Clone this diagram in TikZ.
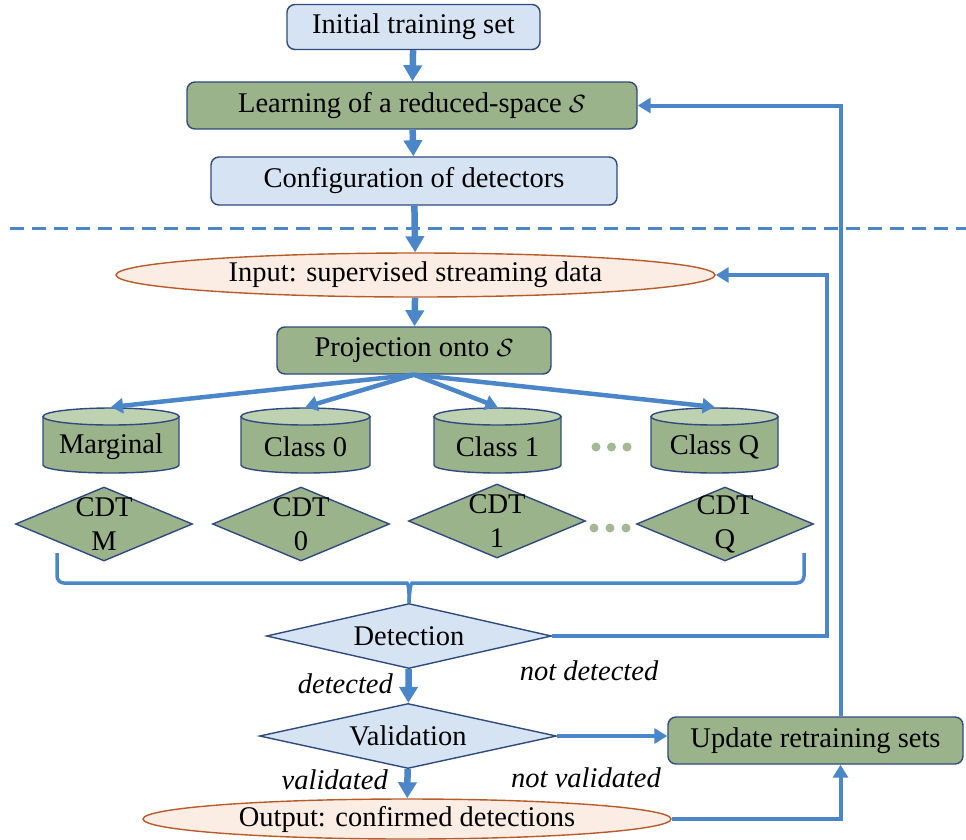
\documentclass[tikz,border=0pt]{standalone}
\usepackage{fontspec}
\setmainfont{Liberation Serif}
\usetikzlibrary{shapes.geometric,arrows.meta,calc}
\definecolor{flowblue}{HTML}{4A86C8}
\definecolor{edgenavy}{HTML}{2F4A7E}
\definecolor{paleblue}{HTML}{D5E3F3}
\definecolor{sage}{HTML}{9BB38A}
\definecolor{sagelight}{HTML}{BED1B1}
\definecolor{sagedot}{HTML}{A3B995}
\definecolor{peach}{HTML}{FBEDE3}
\definecolor{rust}{HTML}{B85A2A}

\begin{document}
\begin{tikzpicture}[x=1pt,y=-1pt,
  every node/.style={font=\fontsize{28.5}{34}\selectfont, inner sep=0pt},
  box/.style={draw=edgenavy, line width=1.4pt, rounded corners=8pt},
  bluebox/.style={box, fill=paleblue},
  greenbox/.style={box, fill=sage},
  oval/.style={ellipse, draw=rust, line width=1.4pt, fill=peach},
  decision/.style={diamond, draw=edgenavy, line width=1.4pt, fill=paleblue},
  cdt/.style={diamond, draw=edgenavy, line width=1.4pt, fill=sage,
    minimum width=177pt, minimum height=74pt},
  cdttext/.style={align=center, font=\fontsize{28.5}{34}\selectfont},
  flow/.style={draw=flowblue, line width=4pt, -{Triangle[width=15pt,length=13pt]}},
  mainflow/.style={draw=flowblue, line width=6.5pt, -{Triangle[width=18pt,length=16pt]}},
  fanflow/.style={draw=flowblue, line width=4.5pt, -{Triangle[width=15pt,length=12pt]}},
  link/.style={draw=flowblue, line width=3.5pt},
  lbl/.style={font=\fontsize{28.5}{34}\selectfont\itshape},
]
\useasboundingbox (0,0) rectangle (966,839);

% training stage
\node[bluebox, minimum width=253pt, minimum height=45pt] (init) at (413.5,27) {Initial training set};
\node[greenbox, minimum width=450pt, minimum height=47pt] (learn) at (412,105.5) {Learning of a reduced-space $\mathcal{S}$};
\node[bluebox, minimum width=406pt, minimum height=48pt] (conf) at (414,181) {Configuration of detectors};

% separator between offline and online stages
\draw[flowblue, line width=3pt, dash pattern=on 14pt off 8pt] (10,228) -- (966,228);

% streaming stage
\node[oval, minimum width=599pt, minimum height=44pt] (inp) at (415.5,275) {Input: supervised streaming data};
\node[greenbox, minimum width=274pt, minimum height=47pt] (proj) at (414,350.5) {Projection onto $\mathcal{S}$};

% class databases
\foreach \cx/\a/\nm/\txt in {111/68/marg/Marginal, 305.5/64.5/clsz/Class 0, 497.5/63.5/clso/Class 1, 714.5/63.5/clsq/Class Q}{
  \filldraw[draw=edgenavy, line width=1.4pt, fill=sage]
    (\cx-\a, 416.5) -- (\cx-\a, 465)
    arc[start angle=180, end angle=360, x radius=\a pt, y radius=8pt]
    -- (\cx+\a, 416.5) -- cycle;
  \filldraw[draw=edgenavy, line width=1.4pt, fill=sagelight]
    (\cx, 416.5) ellipse[x radius=\a pt, y radius=8.5pt];
  \node (\nm) at (\cx,447) {\txt};
  \coordinate (\nm top) at (\cx,407);
}
\foreach \dx in {596,611.5,627}{\fill[sagedot] (\dx,447) circle[radius=4.5pt];}

% change-detection tests
\node[cdt] (cdtm) at (104,524) {};
\node[cdttext] (cdtmt) at (cdtm) {CDT\\M};
\node[cdt] (cdtz) at (301,524) {};
\node[cdttext] (cdtzt) at (cdtz) {CDT\\0};
\node[cdt] (cdto) at (497,521) {};
\node[cdttext] (cdtot) at (cdto) {CDT\\1};
\node[cdt] (cdtq) at (725,524) {};
\node[cdttext] (cdtqt) at (cdtq) {CDT\\Q};
\foreach \dx in {594,610,626}{\fill[sagedot] (\dx,528) circle[radius=4.5pt];}

% decisions
\node[decision, minimum width=285pt, minimum height=65pt] (det) at (409,636) {};
\node (dett) at (det) {Detection};
\node[decision, minimum width=297pt, minimum height=65pt] (val) at (408,736) {};
\node (valt) at (val) {Validation};
\node[oval, minimum width=528pt, minimum height=40pt] (out) at (407,819) {Output: confirmed detections};
\node[greenbox, minimum width=295pt, minimum height=47pt] (upd) at (815.5,740.5) {Update retraining sets};

% branch labels
\node[lbl, anchor=east] (ldet) at (393,684) {detected};
\node[lbl] (lndet) at (589,671) {not detected};
\node[lbl, anchor=east] (lval) at (388,780) {validated};
\node[lbl] (lnval) at (586,778) {not validated};

% main flow
\draw[mainflow] (init) -- (learn);
\draw[mainflow] (learn) -- (conf);
\draw[mainflow] (conf) -- (inp);
\draw[mainflow] (inp) -- (proj);
\foreach \nm in {marg,clsz,clso,clsq}{\draw[fanflow] (proj.south) -- (\nm top);}

% brace gathering the tests
\draw[link, rounded corners=7pt] (57,553) -- (57,583) -- (400,583)
  .. controls (408,583) and (409.5,590) .. (det.north);
\draw[link, rounded corners=7pt] (804,553) -- (804,583) -- (419,583)
  .. controls (411,583) and (409.5,590) .. (det.north);

\draw[mainflow] (det) -- (val);
\draw[mainflow] (val) -- (out);
\draw[flow] (val.east) -- (val.east -| upd.west);
\draw[flow] (det.east) -- ++(275,0) |- (inp.east);
\draw[flow] ([xshift=25pt]upd.north) |- (learn.east);
\draw[flow] (out.east) -| ([xshift=25pt]upd.south);
\end{tikzpicture}
\end{document}
